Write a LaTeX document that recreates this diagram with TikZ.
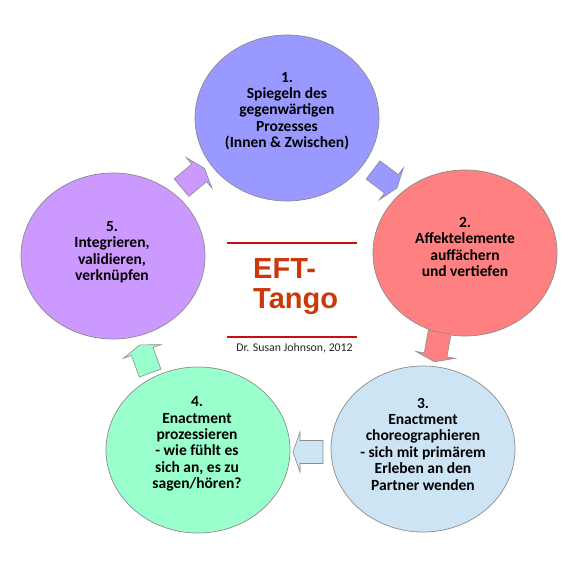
\documentclass[tikz,border=0pt]{standalone}
\usepackage{fontspec}
\setmainfont{Carlito}
\newfontfamily\titlefont{Liberation Sans}
\usetikzlibrary{shapes.geometric}
\definecolor{cA}{RGB}{153,153,255}
\definecolor{cB}{RGB}{255,128,128}
\definecolor{cC}{RGB}{205,228,244}
\definecolor{cD}{RGB}{153,255,204}
\definecolor{cE}{RGB}{204,153,255}
\definecolor{bordergray}{RGB}{140,140,140}
\definecolor{titlered}{RGB}{204,56,10}
\definecolor{linered}{RGB}{196,16,20}
\tikzset{
  stage/.style={ellipse, draw=bordergray, line width=0.7pt, minimum width=184pt, minimum height=166pt, inner sep=0pt},
  stagetext/.style={align=center, font=\fontsize{15.5}{16.4}\selectfont\bfseries, text=black, inner sep=0pt},
  blockarrow/.pic={\path[pic actions] (-15,-11.5) -- (8,-11.5) -- (8,-20) -- (15,0) -- (8,20) -- (8,11.5) -- (-15,11.5) -- cycle;},
  arrowstyle/.style={draw=bordergray, line width=0.6pt, line join=miter}
}
\begin{document}
\begin{tikzpicture}[x=1pt, y=-1pt]
\useasboundingbox[fill=white] (0,0) rectangle (575,575);
% stages
\node[stage, fill=cA] (c1) at (287,118) {};
\node[stage, fill=cB] (c2) at (465,253) {};
\node[stage, fill=cC] (c3) at (423,449) {};
\node[stage, fill=cD] (c4) at (198,450) {};
\node[stage, fill=cE] (c5) at (113,256) {};
\node[stagetext] (t1) at (287,111) {1.\\Spiegeln des\\gegenwärtigen\\Prozesses\\(Innen \& Zwischen)};
\node[stagetext] (t2) at (465,247) {2.\\Affektelemente\\auffächern\\und vertiefen};
\node[stagetext] (t3) at (423,444) {3.\\Enactment\\choreographieren\\- sich mit primärem\\Erleben an den\\Partner wenden};
\node[stagetext] (t4) at (197,444) {4.\\Enactment\\prozessieren\\- wie fühlt es\\sich an, es zu\\sagen/hören?};
\node[stagetext] (t5) at (112,252) {5.\\Integrieren,\\validieren,\\verknüpfen};
% arrows
\pic[arrowstyle, fill=cA, rotate=-37] (a12) at (385,179) {blockarrow};
\pic[arrowstyle, fill=cB, rotate=-100] (a23) at (437,347) {blockarrow};
\pic[arrowstyle, fill=cC, rotate=180] (a34) at (308,452) {blockarrow};
\pic[arrowstyle, fill=cD, rotate=110] (a45) at (145,359) {blockarrow};
\pic[arrowstyle, fill=cE, rotate=40] (a51) at (193,178) {blockarrow};
% title
\coordinate (l1a) at (227,243); \coordinate (l1b) at (357,243);
\coordinate (l2a) at (227,337); \coordinate (l2b) at (357,337);
\draw[linered, line width=2.5pt] (l1a) -- (l1b);
\draw[linered, line width=2.5pt] (l2a) -- (l2b);
\node[anchor=base west, align=left, inner sep=0pt, text=titlered, font=\titlefont\fontsize{29}{30}\selectfont\bfseries] (title) at (253,308) {EFT-\\Tango};
\node[inner sep=0pt, font=\fontsize{11.8}{13}\selectfont, text=black!85] (author) at (294.5,348) {Dr. Susan Johnson, 2012};
\end{tikzpicture}
\end{document}
